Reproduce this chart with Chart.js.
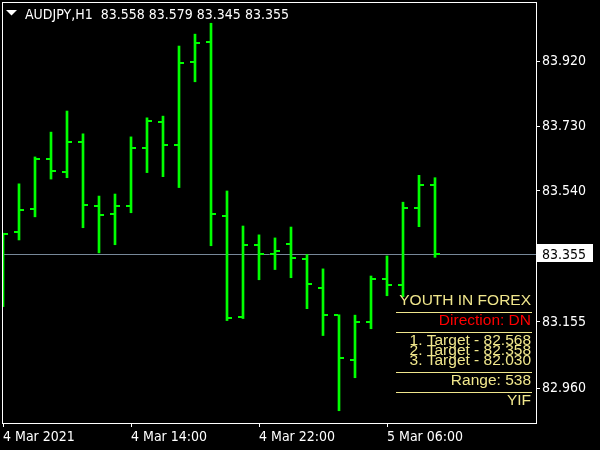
<!DOCTYPE html>
<html>
<head>
<meta charset="utf-8">
<title>AUDJPY,H1</title>
<script src="https://cdn.jsdelivr.net/npm/chart.js@4.4.1/dist/chart.umd.min.js"></script>
<style>
  html, body { margin: 0; padding: 0; background: #000; }
  #wrap { width: 600px; height: 450px; }
</style>
</head>
<body>
<div id="wrap"><canvas id="chart" width="600" height="450"></canvas></div>
<script>
const symbol = 'AUDJPY,H1'
const timeLabels = ['4 Mar 2021', '4 Mar 14:00', '4 Mar 22:00', '5 Mar 06:00']
const timeLabelBars = [0, 8, 16, 24]

// one H1 bar per entry, oldest first
const opens = [83.300, 83.420, 83.488, 83.635, 83.597, 83.685, 83.497, 83.472, 83.497, 83.667,
  83.744, 83.676, 83.920, 83.978, 83.467, 83.170, 83.382, 83.356, 83.385, 83.341,
  83.256, 83.175, 83.044, 83.156, 83.282, 83.265, 83.491, 83.558]
const highs = [83.416, 83.561, 83.640, 83.713, 83.775, 83.708, 83.525, 83.531, 83.699, 83.755,
  83.760, 83.966, 84.001, 84.033, 83.540, 83.437, 83.411, 83.402, 83.434, 83.353,
  83.311, 83.176, 83.175, 83.290, 83.349, 83.507, 83.586, 83.579]
const lows = [83.200, 83.396, 83.464, 83.575, 83.579, 83.432, 83.358, 83.382, 83.476, 83.594,
  83.582, 83.550, 83.861, 83.379, 83.159, 83.165, 83.279, 83.309, 83.285, 83.194,
  83.115, 82.894, 82.991, 83.135, 83.232, 83.229, 83.435, 83.345]
const closes = [83.414, 83.484, 83.634, 83.600, 83.684, 83.499, 83.470, 83.497, 83.667, 83.747,
  83.676, 83.915, 83.976, 83.473, 83.168, 83.382, 83.356, 83.364, 83.344, 83.267,
  83.176, 83.050, 83.156, 83.282, 83.265, 83.491, 83.558, 83.355]

const priceTicks = [83.920, 83.730, 83.540, 83.155, 82.960]

const direction = 'DN'
const targets = [82.568, 82.358, 82.030]
const range = 538

const barColor = '#00ff00'
const infoColor = '#f0e68c'
const axisFont = { family: "'DejaVu Sans Condensed', 'Liberation Sans', sans-serif", size: 14 }
const axisFontCss = "14px 'DejaVu Sans Condensed', 'Liberation Sans', sans-serif"
const infoFontCss = "15.5px 'Liberation Sans', Arial, sans-serif"

const last = closes.length - 1

// open tick to the left, close tick to the right of every bar
const ohlcTicks = {
  id: 'ohlcTicks',
  afterDatasetsDraw (chart) {
    const { ctx, chartArea, scales: { x, y } } = chart
    ctx.save()
    ctx.beginPath()
    ctx.rect(chartArea.left, chartArea.top, chartArea.width, chartArea.height)
    ctx.clip()
    ctx.fillStyle = barColor
    opens.forEach((o, i) => {
      const px = Math.round(x.getPixelForValue(i))
      ctx.fillRect(px - 5, Math.round(y.getPixelForValue(o)) - 1, 4, 2)
      ctx.fillRect(px + 1, Math.round(y.getPixelForValue(closes[i])) - 1, 4, 2)
    })
    ctx.restore()
  }
}

// bid line under the bars
const bidLine = {
  id: 'bidLine',
  beforeDatasetsDraw (chart) {
    const { ctx, chartArea, scales: { y } } = chart
    const py = Math.round(y.getPixelForValue(closes[last])) + 0.5
    ctx.save()
    ctx.strokeStyle = '#778899'
    ctx.lineWidth = 1
    ctx.beginPath()
    ctx.moveTo(chartArea.left, py)
    ctx.lineTo(chartArea.right, py)
    ctx.stroke()
    ctx.restore()
  }
}

const overlay = {
  id: 'overlay',
  afterDraw (chart) {
    const { ctx, chartArea, scales: { y } } = chart
    ctx.save()

    // frame
    ctx.strokeStyle = '#ffffff'
    ctx.lineWidth = 1
    ctx.strokeRect(chartArea.left + 0.5, chartArea.top + 0.5, chartArea.width - 1, chartArea.height - 1)

    // header
    ctx.fillStyle = '#ffffff'
    ctx.beginPath()
    ctx.moveTo(6, 10)
    ctx.lineTo(17, 10)
    ctx.lineTo(11.5, 15.5)
    ctx.closePath()
    ctx.fill()
    ctx.font = axisFontCss
    ctx.textAlign = 'left'
    ctx.textBaseline = 'alphabetic'
    const ohlc = [opens[last], highs[last], lows[last], closes[last]].map((v) => v.toFixed(3)).join(' ')
    ctx.fillText(`${symbol}  ${ohlc}`, 25, 19)

    // bid price box on the axis
    const py = Math.round(y.getPixelForValue(closes[last]))
    ctx.fillStyle = '#ffffff'
    ctx.fillRect(chartArea.right, py - 10, 56, 18)
    ctx.fillStyle = '#000000'
    ctx.fillText(closes[last].toFixed(3), chartArea.right + 5, py + 5)

    // indicator info block
    const rx = chartArea.right - 6
    const b = chartArea.bottom
    ctx.font = infoFontCss
    ctx.textAlign = 'right'
    ctx.fillStyle = infoColor
    ctx.fillText('YOUTH IN FOREX', rx, b - 119)
    ctx.fillStyle = '#ff0000'
    ctx.fillText(`Direction: ${direction}`, rx, b - 99)
    ctx.fillStyle = infoColor
    targets.forEach((t, i) => {
      ctx.fillText(`${i + 1}. Target - ${t.toFixed(3)}`, rx, b - 79.5 + i * 10)
    })
    ctx.fillText(`Range: ${range}`, rx, b - 39)
    ctx.fillText('YIF', rx, b - 19)
    for (const ly of [312, 332, 372, 392]) {
      ctx.fillRect(396, ly, 136, 1)
    }
    ctx.restore()
  }
}

function noLabelPadding (scale) {
  scale.paddingTop = 0
  scale.paddingBottom = 0
  scale.paddingLeft = 0
  scale.paddingRight = 0
}

const ctx = document.getElementById('chart').getContext('2d')
const chart = new Chart(ctx, {
  type: 'bar',
  data: {
    datasets: [
      {
        label: symbol,
        data: highs.map((h, i) => ({ x: i, y: [lows[i], h] })),
        backgroundColor: barColor,
        borderWidth: 0,
        barThickness: 2,
        grouped: false
      }
    ]
  },
  options: {
    responsive: false,
    animation: false,
    events: [],
    layout: { padding: { top: 2, left: 2 } },
    plugins: {
      legend: { display: false },
      tooltip: { enabled: false }
    },
    scales: {
      x: {
        type: 'linear',
        offset: false,
        min: -1 / 16,
        max: 33.375,
        afterFit: (scale) => {
          scale.height = 26
          noLabelPadding(scale)
        },
        afterBuildTicks: (scale) => { scale.ticks = timeLabelBars.map((v) => ({ value: v })) },
        ticks: {
          color: '#ffffff',
          font: axisFont,
          align: 'start',
          padding: 2,
          maxRotation: 0,
          autoSkip: false,
          callback: (v) => timeLabels[timeLabelBars.indexOf(v)]
        },
        grid: { display: true, drawOnChartArea: false, offset: false, color: '#ffffff', tickLength: 3 },
        border: { display: false }
      },
      y: {
        position: 'right',
        min: 82.855,
        max: 84.0955,
        afterFit: (scale) => {
          scale.width = 63
          noLabelPadding(scale)
        },
        afterBuildTicks: (scale) => { scale.ticks = priceTicks.map((v) => ({ value: v })) },
        ticks: {
          color: '#ffffff',
          font: axisFont,
          padding: 2,
          callback: (v) => v.toFixed(3)
        },
        grid: { display: true, drawOnChartArea: false, color: '#ffffff', tickLength: 3 },
        border: { display: false }
      }
    }
  },
  plugins: [bidLine, ohlcTicks, overlay]
})
</script>
</body>
</html>
